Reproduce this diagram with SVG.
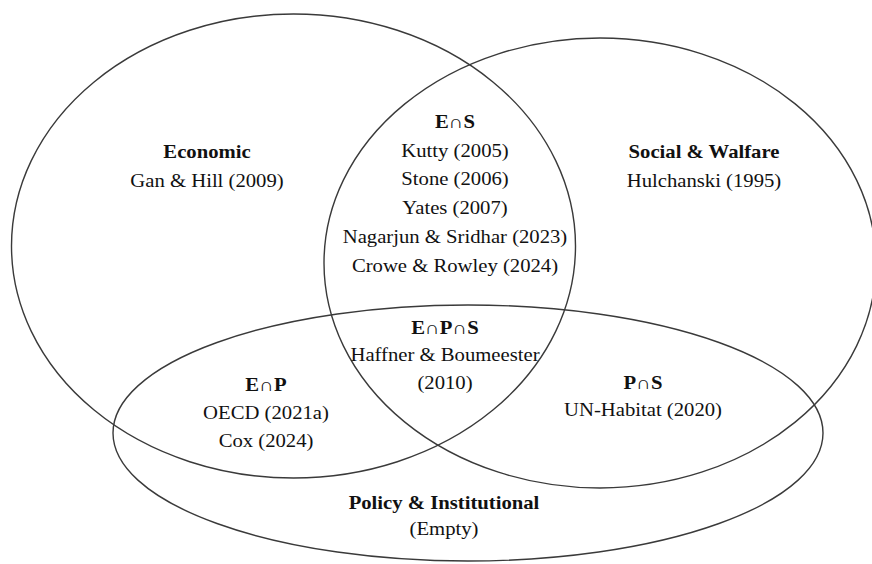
<svg xmlns="http://www.w3.org/2000/svg" width="872" height="564" viewBox="0 0 872 564">
<style>
.ring{fill:none;stroke:#3a3a3a;stroke-width:1.4}
.t{font-family:"Liberation Serif","Times New Roman",serif;font-size:18px;text-anchor:middle;fill:#111}
.b{font-weight:bold}
</style>
<rect width="872" height="564" fill="#fff"/>
<g id="sets">
<ellipse id="ring-economic" class="ring" cx="293.5" cy="246" rx="282" ry="232"/>
<ellipse id="ring-social" class="ring" cx="600" cy="263" rx="276" ry="225"/>
<ellipse id="ring-policy" class="ring" cx="468" cy="433" rx="355" ry="128"/>
</g>
<g id="connectors"/>
<g id="economic" transform="translate(207,0) scale(1.15,1)">
<text class="t b" x="0" y="158">Economic</text>
<text class="t" x="0" y="187">Gan &amp; Hill (2009)</text>
</g>
<g id="social" transform="translate(704,0) scale(1.15,1)">
<text class="t b" x="0" y="158">Social &amp; Walfare</text>
<text class="t" x="0" y="187">Hulchanski (1995)</text>
</g>
<g id="e-s" transform="translate(455,0) scale(1.15,1)">
<text class="t b" x="0" y="128">E∩S</text>
<text class="t" x="0" y="157">Kutty (2005)</text>
<text class="t" x="0" y="185">Stone (2006)</text>
<text class="t" x="0" y="214">Yates (2007)</text>
<text class="t" x="0" y="243">Nagarjun &amp; Sridhar (2023)</text>
<text class="t" x="0" y="272">Crowe &amp; Rowley (2024)</text>
</g>
<g id="e-p-s" transform="translate(445,0) scale(1.15,1)">
<text class="t b" x="0" y="334">E∩P∩S</text>
<text class="t" x="0" y="361">Haffner &amp; Boumeester</text>
<text class="t" x="0" y="389">(2010)</text>
</g>
<g id="e-p" transform="translate(266,0) scale(1.15,1)">
<text class="t b" x="0" y="391">E∩P</text>
<text class="t" x="0" y="419">OECD (2021a)</text>
<text class="t" x="0" y="447">Cox (2024)</text>
</g>
<g id="p-s" transform="translate(643,0) scale(1.15,1)">
<text class="t b" x="0" y="389">P∩S</text>
<text class="t" x="0" y="416">UN-Habitat (2020)</text>
</g>
<g id="policy" transform="translate(444,0) scale(1.15,1)">
<text class="t b" x="0" y="509">Policy &amp; Institutional</text>
<text class="t" x="0" y="535">(Empty)</text>
</g>
</svg>
